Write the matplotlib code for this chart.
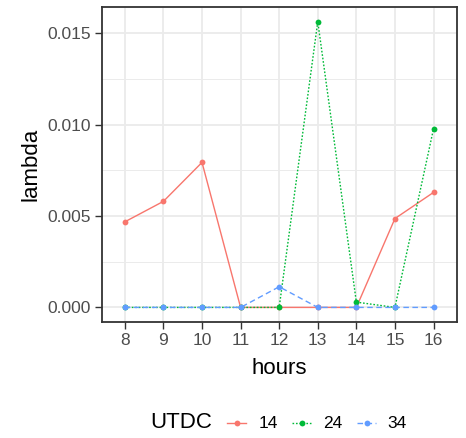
import matplotlib
matplotlib.use("Agg")
import matplotlib.pyplot as plt
from matplotlib.lines import Line2D
import numpy as np

plt.rcParams['font.family'] = ['Liberation Sans', 'DejaVu Sans']

hours = [8, 9, 10, 11, 12, 13, 14, 15, 16]
utdc_levels = ["14", "24", "34"]
lam_14 = [0.00468, 0.0058, 0.00793, 0.0, 0.0, 0.0, 0.0, 0.00486, 0.00629]
lam_24 = [0.0, 0.0, 0.0, 0.0, 0.0, 0.01563, 0.00029, 0.0, 0.00977]
lam_34 = [0.0, 0.0, 0.0, 0.0, 0.00113, 0.0, 0.0, 0.0, 0.0]

colors = ["#F8766D", "#00BA38", "#619CFF"]
styles = ["-", (0, (1.2, 1.3)), (0, (4, 2.5))]

W, H = 466, 438
fig = plt.figure(figsize=(W / 100, H / 100), dpi=100)
ax = fig.add_axes([0.2182, 0.2655, 0.980 - 0.2182, 0.9833 - 0.2655])

xpos = np.arange(len(hours))
series = [lam_14, lam_24, lam_34]
for vals, c, ls in zip(series, colors, styles):
    ax.plot(xpos, vals, color=c, linestyle=ls, lw=1.0, marker='o', ms=4.2,
            markeredgewidth=0, zorder=3)

ax.set_xlim(-0.6, len(hours) - 1 + 0.6)
ymax = max(max(s) for s in series)
ax.set_ylim(-0.05 * ymax, ymax * 1.05)
ax.set_xticks(xpos)
ax.set_xticklabels([str(h) for h in hours])
ax.set_yticks([0.0, 0.005, 0.010, 0.015])
ax.set_yticklabels(["0.000", "0.005", "0.010", "0.015"])
ax.set_yticks([0.0025, 0.0075, 0.0125], minor=True)

ax.grid(True, which='major', color='#EBEBEB', lw=1.3, zorder=0)
ax.grid(True, which='minor', axis='y', color='#EBEBEB', lw=0.7, zorder=0)
ax.set_axisbelow(True)
for sp in ax.spines.values():
    sp.set_color('#333333')
    sp.set_linewidth(1.3)
ax.tick_params(axis='both', which='major', colors='#333333', length=5, width=1.0,
               labelsize=12.5, labelcolor='#4D4D4D', pad=3)
ax.tick_params(axis='both', which='minor', length=0)

ax.set_xlabel("hours", fontsize=16, color='black', labelpad=7)
ax.set_ylabel("lambda", fontsize=16, color='black', labelpad=4)

# legend at bottom (title on the left, keys in a row)
ly = 1 - 423 / H
fig.text(150 / W, ly, "UTDC", fontsize=16, va='center', ha='left')
key_x0 = [227, 292, 357]
label_x = [259, 323, 387]
for lab, c, ls, x0, lx in zip(utdc_levels, colors, styles, key_x0, label_x):
    fig.add_artist(Line2D([x0 / W, (x0 + 19) / W], [ly, ly], color=c, linestyle=ls,
                          lw=1.0, transform=fig.transFigure))
    fig.add_artist(Line2D([(x0 + 9.5) / W], [ly], color=c, marker='o', ms=4.2,
                          markeredgewidth=0, linestyle='none', transform=fig.transFigure))
    fig.text(lx / W, ly, lab, fontsize=12.5, va='center', ha='left')

fig.savefig("out.png", dpi=100)
